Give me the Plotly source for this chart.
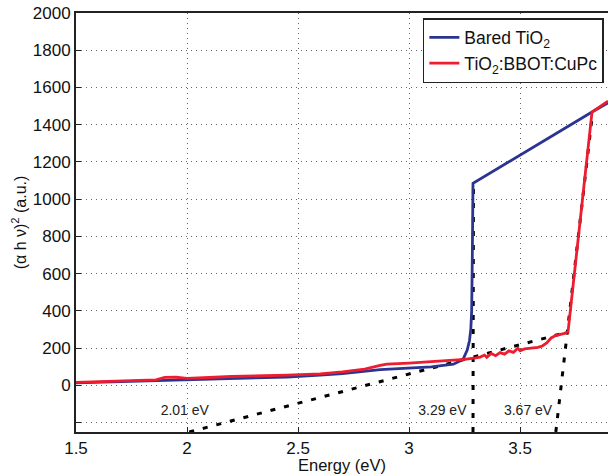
import plotly.graph_objects as go

# Bared TiO2
blue_x = [1.5, 1.7, 1.9, 2.0, 2.2, 2.45, 2.6, 2.7, 2.87, 2.96, 3.1, 3.2, 3.243, 3.262, 3.272, 3.278, 3.282, 3.285, 3.288, 3.824, 3.896]
blue_y = [14, 20, 27, 32, 38, 45, 55, 64, 85, 90, 100, 114, 140, 190, 240, 300, 400, 700, 1086, 1468, 1518]

# TiO2:BBOT:CuPc
red_x = [1.5, 1.7, 1.8, 1.86, 1.9, 1.95, 2.0, 2.2, 2.45, 2.6, 2.7, 2.8, 2.87, 2.9, 3.0, 3.1, 3.2, 3.25, 3.3,
         3.32, 3.34, 3.35, 3.37, 3.39, 3.41, 3.43, 3.45, 3.47, 3.49, 3.5, 3.52,
         3.55, 3.58, 3.6, 3.62, 3.64, 3.66, 3.7, 3.716, 3.824, 3.896]
red_y = [16, 22, 26, 30, 43, 44, 38, 48, 55, 62, 73, 88, 108, 114, 120, 128, 135, 140, 148,
         152, 163, 151, 172, 160, 176, 168, 186, 178, 200, 186, 196,
         200, 205, 212, 228, 255, 268, 280, 288, 1468, 1527]

# tangent (extrapolation) lines
tan1_x = [2.01, 3.72]
tan1_y = [-250, 288]
tan2_x = [3.288, 3.29]
tan2_y = [-250, 1090]
tan3_x = [3.661, 3.826]
tan3_y = [-250, 1460]

gap_labels = ["2.01 eV", "3.29 eV", "3.67 eV"]
gap_label_x = [1.99, 3.15, 3.536]
gap_label_y = [-140, -140, -140]

y_ticks = [-200, 0, 200, 400, 600, 800, 1000, 1200, 1400, 1600, 1800, 2000]
y_ticktext = [""] + [str(v) for v in y_ticks[1:]]
x_ticks = [1.5, 2, 2.5, 3, 3.5]
x_ticktext = ["1.5", "2", "2.5", "3", "3.5"]

font = "Liberation Sans, Arial, sans-serif"

fig = go.Figure()
dash = dict(color="black", width=3, dash="5px,9px")
for tx, ty in [(tan1_x, tan1_y), (tan2_x, tan2_y), (tan3_x, tan3_y)]:
    fig.add_trace(go.Scatter(x=tx, y=ty, mode="lines", line=dash, showlegend=False, hoverinfo="skip"))

fig.add_trace(go.Scatter(x=blue_x, y=blue_y, mode="lines", name="Bared TiO<sub>2</sub>",
                         line=dict(color="#2b3591", width=2.8)))
fig.add_trace(go.Scatter(x=red_x, y=red_y, mode="lines", name="TiO<sub>2</sub>:BBOT:CuPc",
                         line=dict(color="#ee1c2e", width=2.8)))

fig.add_trace(go.Scatter(x=gap_label_x, y=gap_label_y, mode="text", text=gap_labels,
                         textposition="middle center", textfont=dict(size=14, color="#222", family=font),
                         showlegend=False, hoverinfo="skip"))

grid = dict(showgrid=True, gridcolor="#666", griddash="1px,4px", gridwidth=1)

fig.update_layout(
    width=608, height=474,
    margin=dict(l=76, r=0, t=13, b=42, autoexpand=False),
    plot_bgcolor="white", paper_bgcolor="white",
    font=dict(family=font, size=17, color="#111"),
    legend=dict(x=0.652, y=0.988, xanchor="left", yanchor="top",
                bgcolor="white", bordercolor="#222", borderwidth=1.5,
                font=dict(size=17.5, family=font), tracegroupgap=0),
    xaxis=dict(range=[1.5, 3.896], tickvals=x_ticks, ticktext=x_ticktext, automargin=False,
               showline=True, linecolor="#222", linewidth=2, mirror=True,
               ticks="inside", ticklen=5, tickcolor="#222", zeroline=False,
               tickfont=dict(size=17),
               title=dict(text="Energy (eV)", standoff=0, font=dict(size=16.5)), **grid),
    yaxis=dict(range=[-250, 2000], tickvals=y_ticks, ticktext=y_ticktext, automargin=False,
               showline=True, linecolor="#222", linewidth=2, mirror=False,
               ticks="inside", ticklen=5, tickcolor="#222", zeroline=False,
               tickfont=dict(size=17),
               title=dict(text="(α h ν)<sup>2</sup> (a.u.)", standoff=2, font=dict(size=16)), **grid),
)

fig.write_html("out.html", config={"displayModeBar": False},
               post_script="document.body.style.margin='0';document.body.style.overflow='hidden';")
